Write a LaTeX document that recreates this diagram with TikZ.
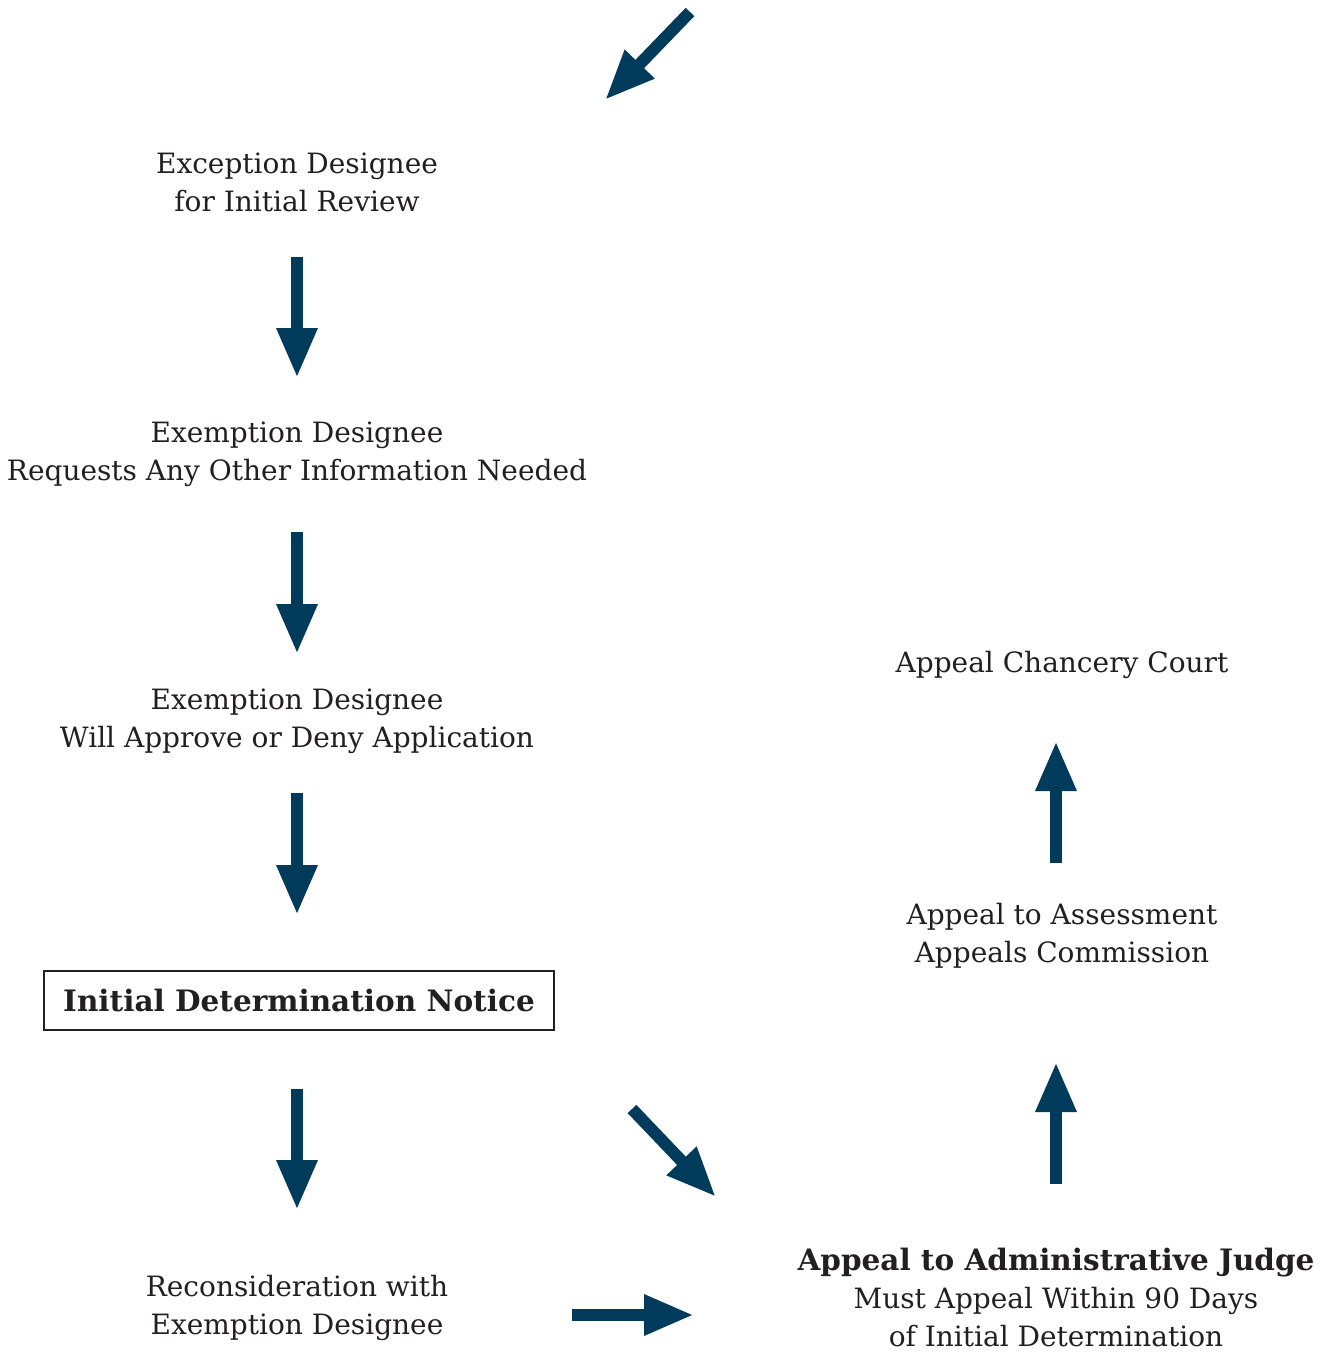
\documentclass[tikz,border=0pt]{standalone}
\usepackage{fontspec}
\setmainfont{DejaVu Serif}
\usetikzlibrary{arrows.meta}
\definecolor{navy}{RGB}{0,59,92}
\definecolor{ink}{RGB}{35,31,32}
\newcommand{\bigbold}{\bfseries\fontsize{29.5}{38}\selectfont}
\tikzset{
  lbl/.style={align=center, text=ink, font=\fontsize{28}{38}\selectfont, inner sep=0pt},
  flow/.style={draw=navy, line width=12pt, -{Triangle[width=38pt,length=50pt]}},
  boxed/.style={draw=ink, line width=2pt, minimum width=510pt, minimum height=59pt}
}
\begin{document}
\begin{tikzpicture}[x=1pt,y=-1pt]
\useasboundingbox (0,0) rectangle (1329,1353);
\node[lbl] (n1) at (297,182) {Exception Designee\\for Initial Review};
\node[lbl] (n2) at (297,454) {Exemption Designee\\Requests Any Other Information Needed};
\node[lbl] (n3) at (297,721) {Exemption Designee\\Will Approve or Deny Application};
\node[lbl, boxed, font=\bigbold] (n4) at (299,1000) {Initial Determination Notice};
\node[lbl] (n5) at (297,1308) {Reconsideration with\\Exemption Designee};
\node[lbl] (n6) at (1056,1297) {{\bigbold Appeal to Administrative Judge}\\Must Appeal Within 90 Days\\of Initial Determination};
\node[lbl] (n7) at (1062,936) {Appeal to Assessment\\Appeals Commission};
\node[lbl] (n8) at (1062,665) {Appeal Chancery Court};
\coordinate (a0s) at (690,12);   \coordinate (a0e) at (605,100);
\coordinate (a1s) at (297,257);  \coordinate (a1e) at (297,378);
\coordinate (a2s) at (297,532);  \coordinate (a2e) at (297,654);
\coordinate (a3s) at (297,793);  \coordinate (a3e) at (297,915);
\coordinate (a4s) at (297,1089); \coordinate (a4e) at (297,1210);
\coordinate (a5s) at (632,1109); \coordinate (a5e) at (716,1197);
\coordinate (a6s) at (572,1315); \coordinate (a6e) at (694,1315);
\coordinate (a7s) at (1056,1184); \coordinate (a7e) at (1056,1062);
\coordinate (a8s) at (1056,863); \coordinate (a8e) at (1056,741);
\foreach \i in {0,...,8} { \draw[flow] (a\i s) -- (a\i e); }
\end{tikzpicture}
\end{document}
